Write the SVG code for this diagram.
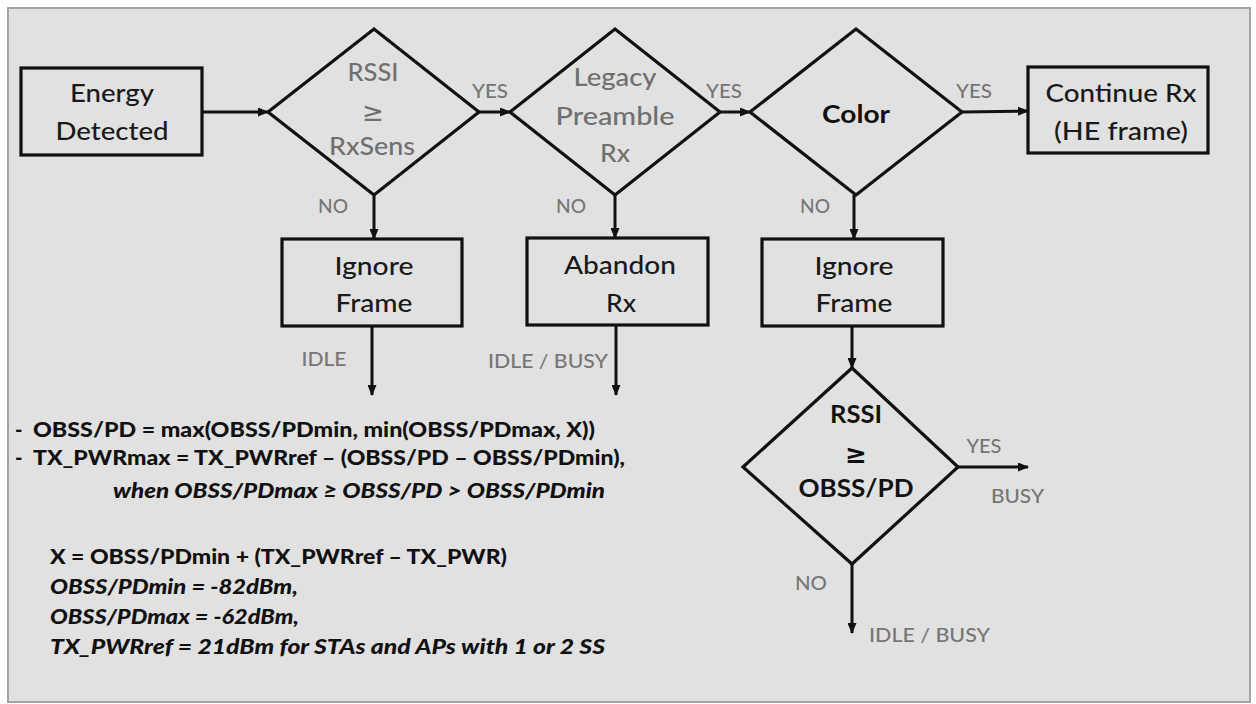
<svg xmlns="http://www.w3.org/2000/svg" width="1256" height="704" viewBox="0 0 1256 704">
<defs>
<marker id="ah" markerWidth="11" markerHeight="9" refX="10" refY="4.5" orient="auto" markerUnits="userSpaceOnUse">
<path d="M0,0 L11,4.5 L0,9 z" fill="#111"/>
</marker>
<style>
.bg{fill:#e1e1e1;stroke:#a3a3a3;stroke-width:2}
.box{fill:none;stroke:#111;stroke-width:3.2}
.dia{fill:none;stroke:#111;stroke-width:3.2;stroke-linejoin:miter}
.con{fill:none;stroke:#111;stroke-width:3;marker-end:url(#ah)}
.t{font-family:Lato,"Liberation Sans",sans-serif;font-size:25px;font-weight:500;fill:#1a1a1a;text-anchor:middle}
.g{fill:#707070}
.b{font-weight:bold;fill:#111}
.ge{font-family:"DejaVu Sans",sans-serif;font-size:26px;font-weight:normal}
.gb{font-weight:bold}
.lbl{font-family:Lato,"Liberation Sans",sans-serif;font-size:20px;font-weight:500;fill:#767676;text-anchor:middle}
.st{text-anchor:start}
.note{font-family:Lato,"Liberation Sans",sans-serif;font-size:20px;font-weight:900;fill:#111}
.it{font-style:italic}
</style>
</defs>
<rect x="0" y="0" width="1256" height="704" fill="#ffffff"/>
<rect class="bg" x="8" y="8" width="1242" height="694"/>

<g id="connectors">
<path class="con" d="M202,112 H268"/>
<path class="con" d="M479,112 H510"/>
<path class="con" d="M720,112 H750"/>
<path class="con" d="M962,112 L1028,111"/>
<path class="con" d="M374,195 V239"/>
<path class="con" d="M615,195 V238"/>
<path class="con" d="M854,195 V239"/>
<path class="con" d="M372,326 V395"/>
<path class="con" d="M616,326 V395"/>
<path class="con" d="M852,326 V368"/>
<path class="con" d="M958,467 H1028"/>
<path class="con" d="M852,564 V633"/>
</g>

<g id="labels">
<text class="lbl" x="333" y="213" textLength="30" lengthAdjust="spacingAndGlyphs">NO</text>
<text class="lbl" x="490" y="98" textLength="36" lengthAdjust="spacingAndGlyphs">YES</text>
<text class="lbl" x="571" y="213" textLength="30" lengthAdjust="spacingAndGlyphs">NO</text>
<text class="lbl" x="724" y="98" textLength="36" lengthAdjust="spacingAndGlyphs">YES</text>
<text class="lbl" x="974" y="98" textLength="36" lengthAdjust="spacingAndGlyphs">YES</text>
<text class="lbl" x="815" y="213" textLength="30" lengthAdjust="spacingAndGlyphs">NO</text>
<text class="lbl" x="324" y="366" textLength="45" lengthAdjust="spacingAndGlyphs">IDLE</text>
<text class="lbl st" x="488" y="368" textLength="120" lengthAdjust="spacingAndGlyphs">IDLE / BUSY</text>
<text class="lbl" x="984" y="453" textLength="35" lengthAdjust="spacingAndGlyphs">YES</text>
<text class="lbl st" x="991" y="503" textLength="53" lengthAdjust="spacingAndGlyphs">BUSY</text>
<text class="lbl" x="811" y="590" textLength="32" lengthAdjust="spacingAndGlyphs">NO</text>
<text class="lbl st" x="869" y="642" textLength="121" lengthAdjust="spacingAndGlyphs">IDLE / BUSY</text>
</g>

<g id="energy-detected">
<rect class="box" x="21" y="68" width="181" height="87"/>
<text class="t" x="112" y="102" textLength="84" lengthAdjust="spacingAndGlyphs">Energy</text>
<text class="t" x="112" y="140" textLength="113" lengthAdjust="spacingAndGlyphs">Detected</text>
</g>

<g id="rssi-rxsens">
<polygon class="dia" points="268,112 374,29 479,112 374,195"/>
<text class="t g" x="373" y="81" textLength="51" lengthAdjust="spacingAndGlyphs">RSSI</text>
<text class="t g ge" x="373" y="121">≥</text>
<text class="t g" x="372" y="155" textLength="86" lengthAdjust="spacingAndGlyphs">RxSens</text>
</g>

<g id="legacy-preamble">
<polygon class="dia" points="510,112 615,29 720,112 615,195"/>
<text class="t g" x="615" y="86" textLength="83" lengthAdjust="spacingAndGlyphs">Legacy</text>
<text class="t g" x="615" y="125" textLength="119" lengthAdjust="spacingAndGlyphs">Preamble</text>
<text class="t g" x="615" y="162" textLength="30" lengthAdjust="spacingAndGlyphs">Rx</text>
</g>

<g id="color">
<polygon class="dia" points="750,112 856,29 962,112 856,195"/>
<text class="t b" x="856" y="123" textLength="68" lengthAdjust="spacingAndGlyphs">Color</text>
</g>

<g id="continue-rx">
<rect class="box" x="1028" y="67" width="180" height="86"/>
<text class="t" x="1121" y="102" textLength="151" lengthAdjust="spacingAndGlyphs">Continue Rx</text>
<text class="t" x="1121" y="140" textLength="134" lengthAdjust="spacingAndGlyphs">(HE frame)</text>
</g>

<g id="ignore-frame-1">
<rect class="box" x="282" y="239" width="180" height="87"/>
<text class="t" x="374" y="275" textLength="79" lengthAdjust="spacingAndGlyphs">Ignore</text>
<text class="t" x="374" y="312" textLength="77" lengthAdjust="spacingAndGlyphs">Frame</text>
</g>

<g id="abandon-rx">
<rect class="box" x="527" y="238" width="181" height="87"/>
<text class="t" x="620" y="274" textLength="112" lengthAdjust="spacingAndGlyphs">Abandon</text>
<text class="t" x="621" y="312" textLength="30" lengthAdjust="spacingAndGlyphs">Rx</text>
</g>

<g id="ignore-frame-2">
<rect class="box" x="762" y="239" width="181" height="87"/>
<text class="t" x="854" y="275" textLength="79" lengthAdjust="spacingAndGlyphs">Ignore</text>
<text class="t" x="854" y="312" textLength="77" lengthAdjust="spacingAndGlyphs">Frame</text>
</g>

<g id="rssi-obss-pd">
<polygon class="dia" points="743,467 852,368 958,467 852,564"/>
<text class="t b" x="856" y="423" textLength="52" lengthAdjust="spacingAndGlyphs">RSSI</text>
<text class="t b ge gb" x="856" y="463">≥</text>
<text class="t b" x="856" y="497" textLength="115" lengthAdjust="spacingAndGlyphs">OBSS/PD</text>
</g>

<g id="notes">
<text class="note" x="15" y="437">-</text>
<text class="note" x="33" y="437" textLength="562" lengthAdjust="spacingAndGlyphs">OBSS/PD = max(OBSS/PDmin, min(OBSS/PDmax, X))</text>
<text class="note" x="15" y="465">-</text>
<text class="note" x="33" y="465" textLength="592" lengthAdjust="spacingAndGlyphs">TX_PWRmax = TX_PWRref – (OBSS/PD – OBSS/PDmin),</text>
<text class="note it" x="113" y="498" textLength="492" lengthAdjust="spacingAndGlyphs">when OBSS/PDmax ≥ OBSS/PD &gt; OBSS/PDmin</text>
<text class="note" x="50" y="564" textLength="457" lengthAdjust="spacingAndGlyphs">X = OBSS/PDmin + (TX_PWRref – TX_PWR)</text>
<text class="note it" x="50" y="594" textLength="248" lengthAdjust="spacingAndGlyphs">OBSS/PDmin = -82dBm,</text>
<text class="note it" x="50" y="624" textLength="249" lengthAdjust="spacingAndGlyphs">OBSS/PDmax = -62dBm,</text>
<text class="note it" x="50" y="654" textLength="555" lengthAdjust="spacingAndGlyphs">TX_PWRref = 21dBm for STAs and APs with 1 or 2 SS</text>
</g>
</svg>
